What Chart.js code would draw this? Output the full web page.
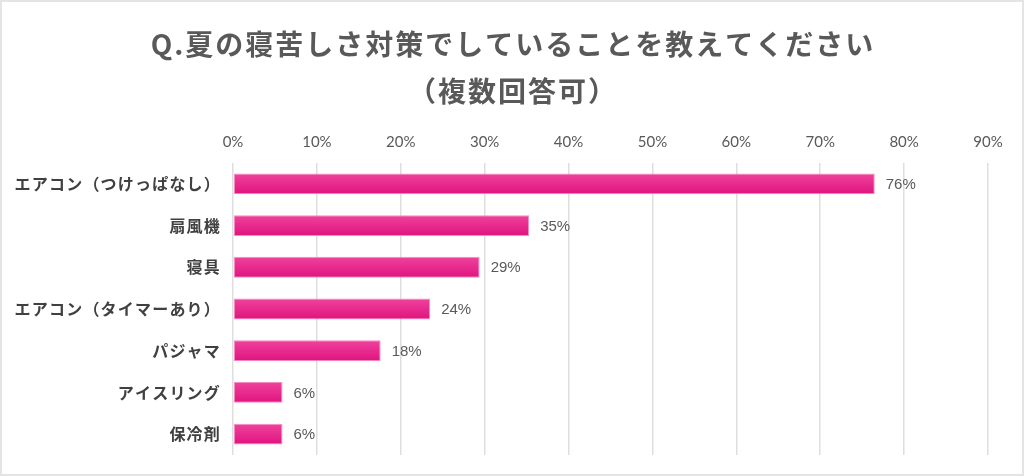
<!DOCTYPE html>
<html>
<head>
  <meta charset="utf-8">
  <title>夏の寝苦しさ対策</title>
  <script src="https://cdn.jsdelivr.net/npm/chart.js"></script>
  <style>
    body {
      margin: 0;
      padding: 0;
      background-color: #ffffff;
    }
    .frame {
      width: 1020px;
      height: 472px;
      border: 2px solid #e4e4e4;
      background-color: white;
    }
  </style>
</head>
<body>
  <div class="frame">
    <canvas id="sleepChart" width="1020" height="472"></canvas>
  </div>
  <script>
    const titleLines = ['Q.夏の寝苦しさ対策でしていることを教えてください', '（複数回答可）'];
    const categories = ['エアコン（つけっぱなし）', '扇風機', '寝具', 'エアコン（タイマーあり）', 'パジャマ', 'アイスリング', '保冷剤'];
    const percentages = [76.5, 35.3, 29.4, 23.5, 17.6, 5.9, 5.9];
    const valueLabels = ['76%', '35%', '29%', '24%', '18%', '6%', '6%'];
    const tickLabels = ['0%', '10%', '20%', '30%', '40%', '50%', '60%', '70%', '80%', '90%'];

    // title, category names (with a little letter spacing) and the values next to the bars
    const textLayer = {
      id: 'textLayer',
      afterDraw(chart) {
        const ctx = chart.ctx;
        const w = chart.width;
        ctx.save();
        ctx.textBaseline = 'middle';

        ctx.font = 'bold 28px "Noto Sans CJK JP", sans-serif';
        ctx.fillStyle = '#595959';
        ctx.textAlign = 'center';
        ctx.letterSpacing = '2px';
        ctx.fillText(titleLines[0], w / 2 + 1, 42);
        ctx.fillText(titleLines[1], w / 2 + 1, 89);

        const y = chart.scales.y;
        ctx.font = 'bold 16px "Noto Sans CJK JP", sans-serif';
        ctx.fillStyle = '#404040';
        ctx.textAlign = 'right';
        ctx.letterSpacing = '1.2px';
        categories.forEach((c, i) => {
          ctx.fillText(c, y.right - 12, y.getPixelForValue(i));
        });

        ctx.font = '15px "Liberation Sans", Arial, sans-serif';
        ctx.fillStyle = '#595959';
        ctx.textAlign = 'left';
        ctx.letterSpacing = '0px';
        chart.getDatasetMeta(0).data.forEach((bar, i) => {
          ctx.fillText(valueLabels[i], bar.x + 11, bar.y + 1);
        });
        ctx.restore();
      }
    };

    function barFill(context) {
      const chart = context.chart;
      const y = chart.scales.y;
      if (!chart.chartArea || !y) return '#e8208a';
      const mid = y.getPixelForValue(context.dataIndex);
      const g = chart.ctx.createLinearGradient(0, mid - 11, 0, mid + 11);
      g.addColorStop(0, '#f0449d');
      g.addColorStop(1, '#df127e');
      return g;
    }

    const ctx = document.getElementById('sleepChart').getContext('2d');
    new Chart(ctx, {
      type: 'bar',
      data: {
        labels: categories,
        datasets: [{
          data: percentages,
          backgroundColor: barFill,
          borderColor: '#f58dc2',
          borderWidth: 1,
          borderSkipped: false,
          barPercentage: 0.5,
          categoryPercentage: 1.0
        }]
      },
      options: {
        indexAxis: 'y',
        responsive: false,
        animation: false,
        layout: {
          padding: { left: 0, right: 34, top: 121, bottom: 19 }
        },
        plugins: {
          legend: { display: false },
          tooltip: { enabled: false },
          title: { display: false }
        },
        scales: {
          x: {
            position: 'top',
            min: 0,
            max: 90,
            border: { display: false },
            grid: { color: '#dedede', lineWidth: 1.5, drawTicks: false },
            ticks: {
              stepSize: 10,
              padding: 12,
              color: '#595959',
              font: { family: 'Lato, sans-serif', size: 15 },
              callback: (v, i) => tickLabels[i]
            },
            afterFit: (scale) => { scale.height = 40; }
          },
          y: {
            border: { display: false },
            grid: { display: false, drawTicks: false },
            ticks: { display: false },
            afterFit: (scale) => { scale.width = 231; }
          }
        }
      },
      plugins: [textLayer]
    });
  </script>
</body>
</html>
